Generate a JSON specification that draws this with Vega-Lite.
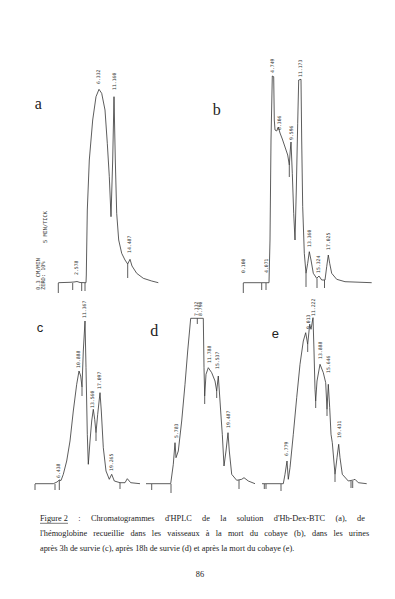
{
  "$schema": "https://vega.github.io/schema/vega-lite/v6.json",
  "padding": {"left": 30, "top": 35, "right": 0, "bottom": 0},
  "background": "white",
  "config": {"view": {"stroke": null}},
  "spacing": 3,
  "datasets": {
    "a_trace": [{"t":5.66,"s":0.3},{"t":8.0,"s":0.7},{"t":8.8,"s":1},{"t":9.4,"s":1.5},{"t":10.0,"s":0.5},{"t":11.2,"s":0.3},{"t":11.26,"s":8},{"t":11.46,"s":73},{"t":11.86,"s":123},{"t":12.54,"s":163},{"t":13.2,"s":186.3},{"t":13.8,"s":193.7},{"t":14.34,"s":189.7},{"t":15.0,"s":173},{"t":15.46,"s":139.7},{"t":15.86,"s":106.3},{"t":16.2,"s":66.3},{"t":16.54,"s":123},{"t":16.8,"s":186.3},{"t":17.06,"s":123},{"t":17.34,"s":69.7},{"t":17.74,"s":43},{"t":18.34,"s":29.7},{"t":19.0,"s":23},{"t":19.54,"s":19},{"t":20.0,"s":23.7},{"t":20.4,"s":17},{"t":21.34,"s":9.7},{"t":22.66,"s":4.7},{"t":24.34,"s":2},{"t":25.66,"s":0.3}],
    "a_ticks": [{"t":5.66,"s":0,"s2":-10},{"t":8.54,"s":0,"s2":-7},{"t":10.34,"s":0,"s2":-8},{"t":11.0,"s":0,"s2":-8},{"t":19.54,"s":19,"s2":5}],
    "a_peaks": [{"t":9.4,"s":8,"label":"2.578"},{"t":13.8,"s":199,"label":"6.332"},{"t":17.0,"s":193,"label":"11.160"},{"t":20.0,"s":30,"label":"14.487"}],
    "a_note": [{"t":1.6,"s":-7,"label":"0.3 CM/MIN"},{"t":2.6,"s":-7,"label":"ZERO: 10%"},{"t":3.0,"s":40,"label":"5 MIN/TICK"}],
    "a_name": [{"t":1.66,"s":173.7,"label":"a"}],
    "b_trace": [{"t":7.66,"s":0.3},{"t":12.8,"s":0.3},{"t":13.0,"s":43},{"t":13.2,"s":143},{"t":13.46,"s":207},{"t":13.74,"s":206.3},{"t":13.86,"s":163},{"t":14.0,"s":153},{"t":14.34,"s":152},{"t":14.66,"s":156},{"t":15.0,"s":150},{"t":15.46,"s":144},{"t":16.0,"s":136},{"t":16.54,"s":128},{"t":16.86,"s":118},{"t":17.06,"s":133},{"t":17.2,"s":141},{"t":17.46,"s":109.7},{"t":17.74,"s":69.7},{"t":18.0,"s":43},{"t":18.26,"s":93},{"t":18.54,"s":159.7},{"t":18.74,"s":203},{"t":19.2,"s":203.7},{"t":19.34,"s":143},{"t":19.54,"s":76.3},{"t":19.86,"s":29.7},{"t":20.2,"s":9.7},{"t":20.54,"s":19.7},{"t":20.86,"s":31.3},{"t":21.2,"s":23},{"t":21.66,"s":9.7},{"t":22.34,"s":4.7},{"t":22.8,"s":7},{"t":23.34,"s":3},{"t":24.0,"s":3},{"t":24.34,"s":16.3},{"t":24.66,"s":28},{"t":24.94,"s":19.7},{"t":25.34,"s":9.7},{"t":26.34,"s":3.7},{"t":28.0,"s":1.3},{"t":33.34,"s":0.3}],
    "b_ticks": [{"t":7.66,"s":0,"s2":-10},{"t":11.34,"s":0,"s2":-7},{"t":12.2,"s":0,"s2":-7},{"t":20.2,"s":9.7,"s2":-4},{"t":22.4,"s":4.5,"s2":-5},{"t":23.9,"s":3,"s2":-5},{"t":16.86,"s":118,"s2":106}],
    "b_peaks": [{"t":7.86,"s":10,"label":"0.100"},{"t":12.34,"s":10,"label":"4.071"},{"t":13.5,"s":210,"label":"4.749"},{"t":15.0,"s":153,"label":"6.306"},{"t":17.34,"s":143,"label":"9.596"},{"t":19.2,"s":206,"label":"11.173"},{"t":21.0,"s":36,"label":"13.360"},{"t":22.8,"s":10,"label":"15.324"},{"t":24.7,"s":33,"label":"17.025"}],
    "b_name": [{"t":2.34,"s":168,"label":"b"}],
    "c_trace": [{"t":1.0,"s":0.3},{"t":4.66,"s":0.3},{"t":5.4,"s":2},{"t":5.86,"s":4},{"t":6.2,"s":3.5},{"t":6.66,"s":9.7},{"t":7.34,"s":23},{"t":8.0,"s":43},{"t":8.66,"s":73},{"t":9.34,"s":99.7},{"t":9.8,"s":113},{"t":10.14,"s":108},{"t":10.4,"s":97},{"t":10.66,"s":133},{"t":11.0,"s":163},{"t":11.2,"s":116.3},{"t":11.46,"s":49.7},{"t":11.66,"s":19.7},{"t":12.0,"s":43},{"t":12.34,"s":63},{"t":12.66,"s":74.7},{"t":12.94,"s":64.7},{"t":13.2,"s":51.3},{"t":13.54,"s":69.7},{"t":14.0,"s":91.3},{"t":14.26,"s":73},{"t":14.66,"s":36.3},{"t":15.2,"s":13},{"t":15.86,"s":4.7},{"t":16.34,"s":9.7},{"t":16.86,"s":3},{"t":18.0,"s":1.3},{"t":19.0,"s":1.3},{"t":19.46,"s":5.3},{"t":20.14,"s":1.3},{"t":22.0,"s":0.3}],
    "c_ticks": [{"t":1.0,"s":0,"s2":-6},{"t":5.0,"s":0,"s2":-6},{"t":5.86,"s":4,"s2":-6},{"t":18.0,"s":1.3,"s2":-5},{"t":10.4,"s":97,"s2":88},{"t":13.2,"s":51.3,"s2":43}],
    "c_peaks": [{"t":5.8,"s":6,"label":"6.438"},{"t":9.7,"s":116,"label":"10.888"},{"t":11.0,"s":166,"label":"11.367"},{"t":12.6,"s":76,"label":"13.560"},{"t":14.0,"s":95,"label":"17.097"},{"t":16.4,"s":13,"label":"19.265"}],
    "c_name": [{"t":2.0,"s":152.3,"label":"c"}],
    "d_trace": [{"t":0,"s":0.3},{"t":4.94,"s":0.3},{"t":5.46,"s":19.7},{"t":5.8,"s":41.3},{"t":6.0,"s":26.3},{"t":6.46,"s":33},{"t":7.14,"s":63},{"t":7.8,"s":99.7},{"t":8.34,"s":133},{"t":8.94,"s":165.7},{"t":11.46,"s":165.7},{"t":11.6,"s":116.3},{"t":11.74,"s":88},{"t":12.0,"s":109.7},{"t":12.46,"s":116.3},{"t":13.14,"s":111.3},{"t":13.8,"s":103},{"t":14.14,"s":93},{"t":14.46,"s":108},{"t":14.8,"s":83},{"t":15.0,"s":68},{"t":15.26,"s":49.7},{"t":15.6,"s":18},{"t":16.0,"s":33},{"t":16.4,"s":51.3},{"t":16.66,"s":33},{"t":17.14,"s":9.7},{"t":18.14,"s":3.7},{"t":19.14,"s":4.7},{"t":19.6,"s":6.3},{"t":20.46,"s":3},{"t":21.8,"s":0.3}],
    "d_ticks": [{"t":1.14,"s":0,"s2":-6},{"t":5.0,"s":0,"s2":-9},{"t":18.6,"s":4,"s2":-5},{"t":10.26,"s":165.7,"s2":160},{"t":11.74,"s":88,"s2":80},{"t":14.14,"s":93,"s2":86}],
    "d_peaks": [{"t":6.2,"s":46,"label":"5.783"},{"t":10.2,"s":168,"label":"7.132"},{"t":11.0,"s":168,"label":"8.790"},{"t":12.8,"s":121,"label":"11.788"},{"t":14.4,"s":115,"label":"15.537"},{"t":16.6,"s":56,"label":"19.487"}],
    "d_name": [{"t":1.66,"s":148,"label":"d"}],
    "e_trace": [{"t":0,"s":0.3},{"t":4.26,"s":0.3},{"t":4.6,"s":9.7},{"t":5.0,"s":23},{"t":5.26,"s":4.7},{"t":5.6,"s":16.3},{"t":6.26,"s":49.7},{"t":6.94,"s":86.3},{"t":7.6,"s":119.7},{"t":8.26,"s":143},{"t":8.74,"s":151.3},{"t":9.14,"s":139.7},{"t":9.54,"s":159.7},{"t":9.8,"s":154.7},{"t":10.2,"s":166.3},{"t":10.4,"s":133},{"t":10.6,"s":94.7},{"t":10.74,"s":83},{"t":11.0,"s":103},{"t":11.6,"s":119.7},{"t":12.26,"s":111.3},{"t":12.74,"s":101.3},{"t":13.0,"s":74.7},{"t":13.26,"s":99.7},{"t":13.54,"s":76.3},{"t":13.8,"s":49.7},{"t":14.06,"s":41.3},{"t":14.6,"s":9.7},{"t":15.0,"s":26.3},{"t":15.34,"s":39.7},{"t":15.6,"s":26.3},{"t":16.06,"s":9.7},{"t":17.26,"s":3},{"t":18.26,"s":4},{"t":18.6,"s":4.7},{"t":19.26,"s":1.3},{"t":20.94,"s":0.3}],
    "e_ticks": [{"t":0.46,"s":0,"s2":-5},{"t":0.8,"s":0,"s2":-5},{"t":3.8,"s":0,"s2":-7},{"t":17.8,"s":3,"s2":-4},{"t":18.14,"s":3,"s2":-4},{"t":9.14,"s":139.7,"s2":132},{"t":10.74,"s":83,"s2":76},{"t":13.0,"s":74.7,"s2":68},{"t":14.6,"s":9.7,"s2":2}],
    "e_peaks": [{"t":5.0,"s":28,"label":"6.779"},{"t":9.3,"s":155,"label":"9.013"},{"t":10.4,"s":168,"label":"11.222"},{"t":11.7,"s":125,"label":"13.888"},{"t":13.4,"s":111,"label":"15.646"},{"t":15.6,"s":46,"label":"19.431"}],
    "e_name": [{"t":2.66,"s":145.7,"label":"e"}],
    "caption": [
      {"row":22,"col":10,"text":"Figure 2\u00a0\u00a0\u00a0\u00a0\u00a0:\u00a0\u00a0\u00a0\u00a0\u00a0Chromatogrammes\u00a0\u00a0\u00a0\u00a0\u00a0d'HPLC\u00a0\u00a0\u00a0\u00a0\u00a0de\u00a0\u00a0\u00a0\u00a0\u00a0la\u00a0\u00a0\u00a0\u00a0\u00a0solution\u00a0\u00a0\u00a0\u00a0\u00a0d'Hb-Dex-BTC\u00a0\u00a0\u00a0\u00a0\u00a0(a),\u00a0\u00a0\u00a0\u00a0\u00a0de"},
      {"row":37,"col":10,"text":"l'hémoglobine\u00a0\u00a0\u00a0recueillie\u00a0\u00a0\u00a0dans\u00a0\u00a0\u00a0les\u00a0\u00a0\u00a0vaisseaux\u00a0\u00a0\u00a0à\u00a0\u00a0\u00a0la\u00a0\u00a0\u00a0mort\u00a0\u00a0\u00a0du\u00a0\u00a0\u00a0cobaye\u00a0\u00a0\u00a0(b),\u00a0\u00a0\u00a0dans\u00a0\u00a0\u00a0les\u00a0\u00a0\u00a0urines"},
      {"row":52,"col":10,"text":"après 3h de survie (c), après 18h de survie (d) et après la mort du cobaye (e)."}
    ],
    "page": [{"row":78,"col":170,"text":"86"}],
    "underline": [{"row":26.3,"col":10,"col2":38}]
  },
  "vconcat": [
    {
      "bounds": "flush",
      "spacing": 40,
      "hconcat": [
        {
          "width": 135, "height": 260,
          "encoding": {
            "x": {"field": "t", "type": "quantitative", "scale": {"domain": [0, 27], "nice": false, "zero": false}, "axis": null},
            "y": {"field": "s", "type": "quantitative", "scale": {"domain": [-12, 248], "nice": false, "zero": false}, "axis": null}
          },
          "layer": [
            {"data": {"name": "a_trace"}, "mark": {"type": "line", "stroke": "#333", "strokeWidth": 0.8}},
            {"data": {"name": "a_ticks"}, "mark": {"type": "rule", "stroke": "#333", "strokeWidth": 0.8}, "encoding": {"y2": {"field": "s2"}}},
            {"data": {"name": "a_peaks"}, "mark": {"type": "text", "angle": 270, "align": "left", "baseline": "middle", "font": "DejaVu Sans Mono", "fontSize": 4.8, "fill": "#333"}, "encoding": {"text": {"field": "label"}}},
            {"data": {"name": "a_note"}, "mark": {"type": "text", "angle": 270, "align": "left", "baseline": "middle", "font": "DejaVu Sans Mono", "fontSize": 5.3, "fill": "#333"}, "encoding": {"text": {"field": "label"}}},
            {"data": {"name": "a_name"}, "mark": {"type": "text", "align": "center", "baseline": "alphabetic", "font": "Liberation Serif", "fontSize": 16, "fill": "#222"}, "encoding": {"text": {"field": "label"}}}
          ]
        },
        {
          "width": 175, "height": 260,
          "encoding": {
            "x": {"field": "t", "type": "quantitative", "scale": {"domain": [0, 35], "nice": false, "zero": false}, "axis": null},
            "y": {"field": "s", "type": "quantitative", "scale": {"domain": [-12, 248], "nice": false, "zero": false}, "axis": null}
          },
          "layer": [
            {"data": {"name": "b_trace"}, "mark": {"type": "line", "stroke": "#333", "strokeWidth": 0.8}},
            {"data": {"name": "b_ticks"}, "mark": {"type": "rule", "stroke": "#333", "strokeWidth": 0.8}, "encoding": {"y2": {"field": "s2"}}},
            {"data": {"name": "b_peaks"}, "mark": {"type": "text", "angle": 270, "align": "left", "baseline": "middle", "font": "DejaVu Sans Mono", "fontSize": 4.8, "fill": "#333"}, "encoding": {"text": {"field": "label"}}},
            {"data": {"name": "b_name"}, "mark": {"type": "text", "align": "center", "baseline": "alphabetic", "font": "Liberation Serif", "fontSize": 16, "fill": "#222"}, "encoding": {"text": {"field": "label"}}}
          ]
        }
      ]
    },
    {
      "bounds": "flush",
      "spacing": 4,
      "hconcat": [
        {
          "width": 112, "height": 194,
          "encoding": {
            "x": {"field": "t", "type": "quantitative", "scale": {"domain": [0, 22.4], "nice": false, "zero": false}, "axis": null},
            "y": {"field": "s", "type": "quantitative", "scale": {"domain": [-9, 185], "nice": false, "zero": false}, "axis": null}
          },
          "layer": [
            {"data": {"name": "c_trace"}, "mark": {"type": "line", "stroke": "#333", "strokeWidth": 0.8}},
            {"data": {"name": "c_ticks"}, "mark": {"type": "rule", "stroke": "#333", "strokeWidth": 0.8}, "encoding": {"y2": {"field": "s2"}}},
            {"data": {"name": "c_peaks"}, "mark": {"type": "text", "angle": 270, "align": "left", "baseline": "middle", "font": "DejaVu Sans Mono", "fontSize": 4.8, "fill": "#333"}, "encoding": {"text": {"field": "label"}}},
            {"data": {"name": "c_name"}, "mark": {"type": "text", "align": "center", "baseline": "alphabetic", "font": "Liberation Sans", "fontSize": 13, "fill": "#222"}, "encoding": {"text": {"field": "label"}}}
          ]
        },
        {
          "width": 112, "height": 194,
          "encoding": {
            "x": {"field": "t", "type": "quantitative", "scale": {"domain": [0, 22.4], "nice": false, "zero": false}, "axis": null},
            "y": {"field": "s", "type": "quantitative", "scale": {"domain": [-9, 185], "nice": false, "zero": false}, "axis": null}
          },
          "layer": [
            {"data": {"name": "d_trace"}, "mark": {"type": "line", "stroke": "#333", "strokeWidth": 0.8}},
            {"data": {"name": "d_ticks"}, "mark": {"type": "rule", "stroke": "#333", "strokeWidth": 0.8}, "encoding": {"y2": {"field": "s2"}}},
            {"data": {"name": "d_peaks"}, "mark": {"type": "text", "angle": 270, "align": "left", "baseline": "middle", "font": "DejaVu Sans Mono", "fontSize": 4.8, "fill": "#333"}, "encoding": {"text": {"field": "label"}}},
            {"data": {"name": "d_name"}, "mark": {"type": "text", "align": "center", "baseline": "alphabetic", "font": "Liberation Serif", "fontSize": 16, "fill": "#222"}, "encoding": {"text": {"field": "label"}}}
          ]
        },
        {
          "width": 112, "height": 194,
          "encoding": {
            "x": {"field": "t", "type": "quantitative", "scale": {"domain": [0, 22.4], "nice": false, "zero": false}, "axis": null},
            "y": {"field": "s", "type": "quantitative", "scale": {"domain": [-9, 185], "nice": false, "zero": false}, "axis": null}
          },
          "layer": [
            {"data": {"name": "e_trace"}, "mark": {"type": "line", "stroke": "#333", "strokeWidth": 0.8}},
            {"data": {"name": "e_ticks"}, "mark": {"type": "rule", "stroke": "#333", "strokeWidth": 0.8}, "encoding": {"y2": {"field": "s2"}}},
            {"data": {"name": "e_peaks"}, "mark": {"type": "text", "angle": 270, "align": "left", "baseline": "middle", "font": "DejaVu Sans Mono", "fontSize": 4.8, "fill": "#333"}, "encoding": {"text": {"field": "label"}}},
            {"data": {"name": "e_name"}, "mark": {"type": "text", "align": "center", "baseline": "alphabetic", "font": "Liberation Sans", "fontSize": 13, "fill": "#222"}, "encoding": {"text": {"field": "label"}}}
          ]
        }
      ]
    },
    {
      "width": 340, "height": 90,
      "encoding": {
        "x": {"field": "col", "type": "quantitative", "scale": {"domain": [0, 340], "nice": false, "zero": false}, "axis": null},
        "y": {"field": "row", "type": "quantitative", "scale": {"domain": [0, 90], "nice": false, "zero": false, "reverse": true}, "axis": null}
      },
      "layer": [
        {"data": {"name": "caption"}, "mark": {"type": "text", "align": "left", "baseline": "middle", "font": "Liberation Serif", "fontSize": 8.3, "fill": "#222"}, "encoding": {"text": {"field": "text"}}},
        {"data": {"name": "page"}, "mark": {"type": "text", "align": "center", "baseline": "middle", "font": "Liberation Serif", "fontSize": 8.3, "fill": "#222"}, "encoding": {"text": {"field": "text"}}},
        {"data": {"name": "underline"}, "mark": {"type": "rule", "stroke": "#222", "strokeWidth": 0.6}, "encoding": {"x2": {"field": "col2"}}}
      ]
    }
  ]
}
